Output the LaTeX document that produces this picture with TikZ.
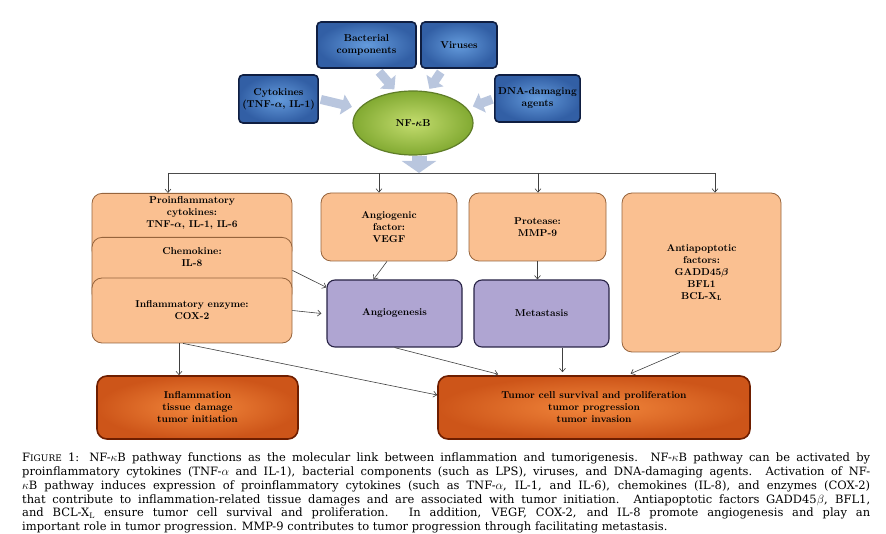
\documentclass[tikz,border=0pt]{standalone}
\usepackage{amsmath}
\usepackage{fontspec}
\newfontfamily\capfont{DejaVu Serif}
\usetikzlibrary{positioning,arrows.meta,shapes.geometric}

\definecolor{bluein}{RGB}{100,155,220}
\definecolor{blueout}{RGB}{50,95,165}
\definecolor{navy}{RGB}{15,30,65}
\definecolor{greenin}{RGB}{195,220,110}
\definecolor{greenout}{RGB}{130,170,50}
\definecolor{greenline}{RGB}{95,125,40}
\definecolor{peach}{RGB}{250,192,145}
\definecolor{peachline}{RGB}{150,100,60}
\definecolor{lilac}{RGB}{175,165,210}
\definecolor{lilacline}{RGB}{40,35,70}
\definecolor{rustin}{RGB}{242,135,60}
\definecolor{rustout}{RGB}{205,85,25}
\definecolor{rustline}{RGB}{110,30,0}
\definecolor{arrowgray}{RGB}{185,198,222}

\begin{document}
\begin{tikzpicture}[x=1pt, y=-1pt, >={Straight Barb[length=3.5pt,width=6pt]},
    every node/.style={font=\bfseries\fontsize{10}{12}\selectfont, align=center},
    cause/.style={draw=navy, line width=1.6pt, rounded corners=4pt, inner color=bluein, outer color=blueout},
    factor/.style={draw=peachline, line width=0.8pt, fill=peach, rounded corners=10pt},
    process/.style={draw=lilacline, line width=1.1pt, fill=lilac, rounded corners=8pt},
    outcome/.style={draw=rustline, line width=1.6pt, rounded corners=10pt, inner color=rustin, outer color=rustout},
    fat/.style={draw=arrowgray, line width=9pt, -{Triangle[width=20pt,length=10pt]}},
    link/.style={->, draw=black!75, line width=0.6pt}]
            \useasboundingbox (0,0) rectangle (886,534);

            \node[cause, minimum width=99, minimum height=46] (bact) at (366.5,45) {Bacterial\\components};
            \node[cause, minimum width=76, minimum height=46] (vir) at (459,45) {Viruses};
            \node[cause, minimum width=79, minimum height=48] (cyto) at (278.5,99) {Cytokines\\(TNF-$\boldsymbol{\alpha}$, IL-1)};
            \node[cause, minimum width=80, minimum height=47] (dna) at (537.5,98.5) {DNA-damaging\\agents};
            \node[ellipse, draw=greenline, line width=1.2pt, inner color=greenin, outer color=greenout,
                  minimum width=120, minimum height=64] (nfkb) at (413,123) {NF-$\boldsymbol{\kappa}$B};

            \draw[fat, shorten <=4pt, shorten >=3pt] ([xshift=10pt]bact.south) -- (nfkb.118);
            \draw[fat, shorten <=4pt, shorten >=3pt] ([xshift=-16pt]vir.south) -- (nfkb.65);
            \draw[fat, shorten <=2pt, shorten >=7pt] (cyto.east) -- (nfkb.165);
            \draw[fat, shorten <=2pt, shorten >=6pt] (dna.west) -- (nfkb.15);

            \coordinate (busL) at (168,173);
            \coordinate (busA) at (379,173);
            \coordinate (busM) at (419,173);
            \coordinate (busP) at (538,173);
            \coordinate (busR) at (715,173);
            \draw[draw=black!70, line width=0.6pt] (busL) -- (busR);
            \draw[draw=arrowgray, line width=15pt, -{Triangle[width=34pt,length=12pt]}] (nfkb.south -| busM) -- (busM);

            \node[factor, minimum width=200, minimum height=67, anchor=north] (pro) at (192,193) {};
            \node[below=0pt of pro.north] (protxt) {Proinflammatory\\cytokines:\\TNF-$\boldsymbol{\alpha}$, IL-1, IL-6};
            \node[factor, minimum width=200, minimum height=66, anchor=north] (chem) at (192,237) {};
            \node[below=7pt of chem.north] (chemtxt) {Chemokine:\\IL-8};
            \node[factor, minimum width=200, minimum height=65] (cox) at (192,310.5) {Inflammatory enzyme:\\COX-2};
            \node[factor, minimum width=136, minimum height=68] (angf) at (389,227) {Angiogenic\\factor:\\VEGF};
            \node[factor, minimum width=137, minimum height=68] (prot) at (537.5,227) {Protease:\\MMP-9};
            \node[factor, minimum width=159, minimum height=159] (anti) at (701.5,272.5) {Antiapoptotic\\factors:\\GADD45$\boldsymbol{\beta}$\\BFL1\\BCL-X$_{\mathbf{L}}$};

            \node[process, minimum width=135, minimum height=67] (angio) at (394.5,313.5) {Angiogenesis};
            \node[process, minimum width=135, minimum height=67] (meta) at (541.5,313.5) {Metastasis};

            \node[outcome, minimum width=201, minimum height=63] (infl) at (197.5,407.5) {Inflammation\\tissue damage\\tumor initiation};
            \node[outcome, minimum width=312, minimum height=63] (tumor) at (594,407.5) {Tumor cell survival and proliferation\\tumor progression\\tumor invasion};

            \draw[link] (busL) -- (busL |- pro.north);
            \draw[link] (busA) -- (busA |- angf.north);
            \draw[link] (busP) -- (busP |- prot.north);
            \draw[link] (busR) -- (busR |- anti.north);

            \draw[link] (chem.east) -- (angio.159);
            \draw[link] (cox.east) -- ([xshift=-5pt]angio.west);
            \draw[link] ([xshift=-2pt]angf.south) -- ([xshift=-21pt]angio.north);
            \draw[link] (prot.south) -- (prot.south |- meta.north);
            \draw[link] ([xshift=-13pt]cox.south) -- ([xshift=-18.5pt]infl.north);
            \draw[link] ([xshift=-9pt]cox.south) -- ([yshift=12.5pt]tumor.west);
            \draw[link, shorten >=4pt] (angio.south) -- ([xshift=-92pt]tumor.north);
            \draw[link, shorten >=3pt] ([xshift=21pt]meta.south) -- ([xshift=21pt]meta.south |- tumor.north);
            \draw[link, shorten >=4pt] ([xshift=-21.5pt]anti.south) -- ([xshift=33pt]tumor.north);

            \node[anchor=north west, inner sep=0pt, align=left, font=\capfont\fontsize{11.5}{13.7}\selectfont] (caption) at (22,453)
              {\hbox to 848pt{F{\fontsize{9}{9}\selectfont IGURE} 1: NF-$\kappa$B pathway functions as the molecular link between inflammation and tumorigenesis. NF-$\kappa$B pathway can be activated by}\\
               \hbox to 848pt{proinflammatory cytokines (TNF-$\alpha$ and IL-1), bacterial components (such as LPS), viruses, and DNA-damaging agents. Activation of NF-}\\
               \hbox to 848pt{$\kappa$B pathway induces expression of proinflammatory cytokines (such as TNF-$\alpha$, IL-1, and IL-6), chemokines (IL-8), and enzymes (COX-2)}\\
               \hbox to 848pt{that contribute to inflammation-related tissue damages and are associated with tumor initiation. Antiapoptotic factors GADD45$\beta$, BFL1,}\\
               \hbox to 848pt{and BCL-X$_{\mathrm{L}}$ ensure tumor cell survival and proliferation. In addition, VEGF, COX-2, and IL-8 promote angiogenesis and play an}\\
               important role in tumor progression. MMP-9 contributes to tumor progression through facilitating metastasis.};
        \end{tikzpicture}
\end{document}
